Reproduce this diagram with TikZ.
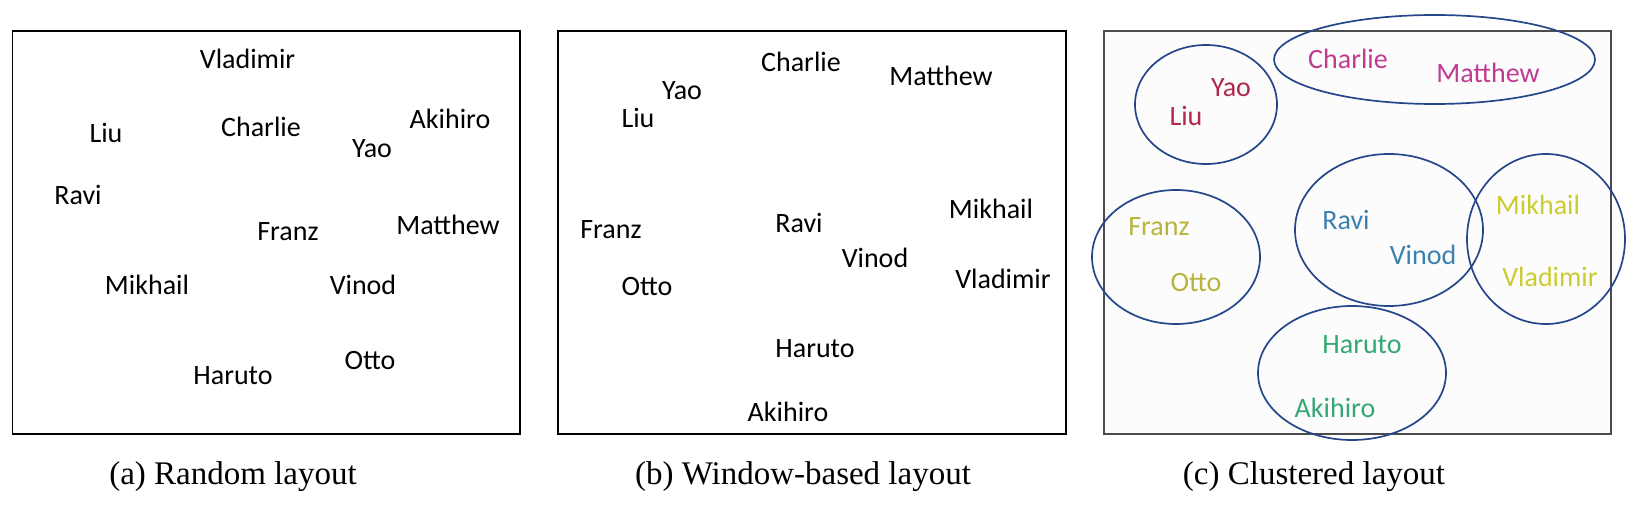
\documentclass[tikz,border=0pt]{standalone}
\usepackage{fontspec}
\setmainfont{Liberation Serif}
\newfontfamily\namefont{Carlito}
\definecolor{ringblue}{HTML}{24468A}
\definecolor{liured}{HTML}{B0284A}
\definecolor{charliepink}{HTML}{C03A92}
\definecolor{franzolive}{HTML}{B8B43A}
\definecolor{ravisteel}{HTML}{3C80B0}
\definecolor{mikhailyellow}{HTML}{CCCC30}
\definecolor{harutogreen}{HTML}{34A873}
\definecolor{panelgray}{HTML}{FCFCFD}
\begin{document}
\begin{tikzpicture}[x=1pt,y=-1pt,
    every node/.style={font=\namefont\fontsize{28}{32}\selectfont},
    caption/.style={font=\fontsize{33}{38}\selectfont},
    frame/.style={draw=black,line width=1.4pt},
    ring/.style={draw=ringblue,line width=1.7pt}]
  \useasboundingbox (0,0) rectangle (1631,513);
  % (a) random layout
  \draw[frame] (12.5,31) rectangle (520,434);
  \draw
    (247.6,59) node (aVladimir){Vladimir}
    (106,133) node (aLiu){Liu}
    (261,127) node (aCharlie){Charlie}
    (450,119) node (aAkihiro){Akihiro}
    (372,149) node (aYao){Yao}
    (78,195) node (aRavi){Ravi}
    (288,232) node (aFranz){Franz}
    (448,225) node (aMatthew){Matthew}
    (147,285) node (aMikhail){Mikhail}
    (363,285) node (aVinod){Vinod}
    (370,361) node (aOtto){Otto}
    (233,376) node (aHaruto){Haruto};
  \node[caption] (aCaption) at (233,477) {(a) Random layout};
  % (b) window-based layout
  \draw[frame] (558,31) rectangle (1066,434);
  \draw
    (801,62) node (bCharlie){Charlie}
    (941,76) node (bMatthew){Matthew}
    (682,91) node (bYao){Yao}
    (638,118) node (bLiu){Liu}
    (991,209) node (bMikhail){Mikhail}
    (611,230) node (bFranz){Franz}
    (799,223) node (bRavi){Ravi}
    (875,258) node (bVinod){Vinod}
    (1003,279) node (bVladimir){Vladimir}
    (647,287) node (bOtto){Otto}
    (815,349) node (bHaruto){Haruto}
    (788,412) node (bAkihiro){Akihiro};
  \node[caption] (bCaption) at (803,477) {(b) Window-based layout};
  % (c) clustered layout
  \draw[draw=black!70,fill=panelgray,line width=1.4pt] (1104,31) rectangle (1611,434);
  \begin{scope}[every node/.append style={text=liured}]
    \draw (1231,88) node (cYao){Yao} (1186,116) node (cLiu){Liu};
  \end{scope}
  \begin{scope}[every node/.append style={text=charliepink}]
    \draw (1348,59) node (cCharlie){Charlie} (1488,73) node (cMatthew){Matthew};
  \end{scope}
  \begin{scope}[every node/.append style={text=franzolive}]
    \draw (1159,227) node (cFranz){Franz} (1196,283) node (cOtto){Otto};
  \end{scope}
  \begin{scope}[every node/.append style={text=ravisteel}]
    \draw (1346,220) node (cRavi){Ravi} (1423,255) node (cVinod){Vinod};
  \end{scope}
  \begin{scope}[every node/.append style={text=mikhailyellow}]
    \draw (1538,205) node (cMikhail){Mikhail} (1550,277) node (cVladimir){Vladimir};
  \end{scope}
  \begin{scope}[every node/.append style={text=harutogreen}]
    \draw (1362,345) node (cHaruto){Haruto} (1335,408) node (cAkihiro){Akihiro};
  \end{scope}
  \begin{scope}[ring]
    \draw (1206,104.5) ellipse [x radius=71,y radius=59.5];
    \draw (1434.5,59.5) ellipse [x radius=160.5,y radius=44.5];
    \draw (1176,257) ellipse [x radius=84,y radius=67];
    \draw (1389,230) ellipse [x radius=94,y radius=76];
    \draw (1546,239) ellipse [x radius=79,y radius=85];
    \draw (1352,373) ellipse [x radius=94,y radius=67];
  \end{scope}
  \node[caption] (cCaption) at (1314,477) {(c) Clustered layout};
\end{tikzpicture}
\end{document}
